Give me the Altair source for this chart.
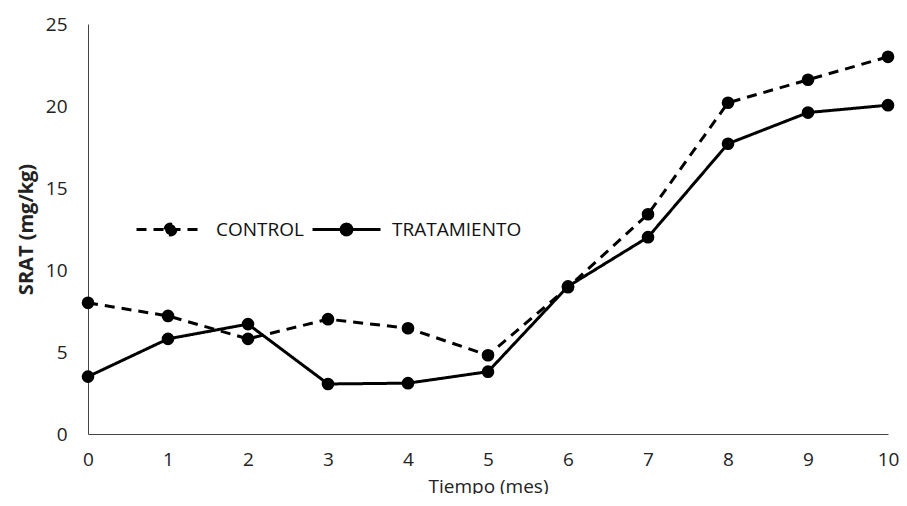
import altair as alt
import pandas as pd
import math

meses = [0, 1, 2, 3, 4, 5, 6, 7, 8, 9, 10]
control = [8.0, 7.2, 5.8, 7.0, 6.45, 4.8, 8.95, 13.4, 20.2, 21.6, 23.0]
tratamiento = [3.5, 5.8, 6.7, 3.05, 3.1, 3.8, 9.0, 12.0, 17.7, 19.6, 20.05]
series = ["CONTROL", "TRATAMIENTO"]

rows = []
for name, vals in zip(series, [control, tratamiento]):
    for m, v in zip(meses, vals):
        rows.append({"mes": m, "srat": v, "serie": name})
df = pd.DataFrame(rows)

FONT = "Open Sans"


def ring(r, n=16):
    pts = []
    for k in range(n):
        a = 2 * math.pi * k / n
        pts.append(f"{r * math.cos(a):.4f},{r * math.sin(a):.4f}")
    return "M" + "L".join(pts) + "Z"


legend_path = "M-1,0L1,0" + ring(0.16)

x = alt.X("mes:Q", title="Tiempo (mes)",
          scale=alt.Scale(domain=[0, 10], nice=False),
          axis=alt.Axis(values=meses, ticks=False, grid=False, labelPadding=16,
                        titlePadding=8, labelFontSize=19, titleFontSize=19,
                        titleFontWeight="normal", domainColor="#444", labelColor="#222",
                        titleColor="#222", labelFlush=False))
y = alt.Y("srat:Q", title="SRAT (mg/kg)",
          scale=alt.Scale(domain=[0, 25], nice=False),
          axis=alt.Axis(values=[0, 5, 10, 15, 20, 25], ticks=False, grid=False,
                        labelPadding=21, titlePadding=9, labelFontSize=19,
                        titleFontSize=20, titleFontWeight="bold", domainColor="#444",
                        labelColor="#222", titleColor="#222"))

legend = alt.Legend(orient="none", legendX=47, legendY=170, direction="horizontal",
                    title=None, symbolType=legend_path, symbolSize=4624,
                    labelFontSize=19, labelOffset=10, columnPadding=2,
                    symbolStrokeWidth=3, symbolStrokeColor="black",
                    symbolFillColor="black", labelColor="#111")

lines = alt.Chart(df).mark_line(color="black", strokeWidth=3).encode(
    x=x, y=y,
    strokeDash=alt.StrokeDash("serie:N", scale=alt.Scale(domain=series, range=[[10, 7], [1, 0]]),
                              legend=legend),
)
points = alt.Chart(df).mark_point(filled=True, color="black", size=160, opacity=1, clip=False).encode(
    x=x, y=y, detail="serie:N"
)

chart = alt.layer(lines, points).properties(
    width=800, height=410,
    autosize=alt.AutoSizeParams(type="none"),
    padding={"left": 80, "top": 16, "right": 11, "bottom": 60},
).configure(font=FONT).configure_view(stroke=None)

chart.save("out.html", embed_options={"renderer": "svg", "actions": False})
